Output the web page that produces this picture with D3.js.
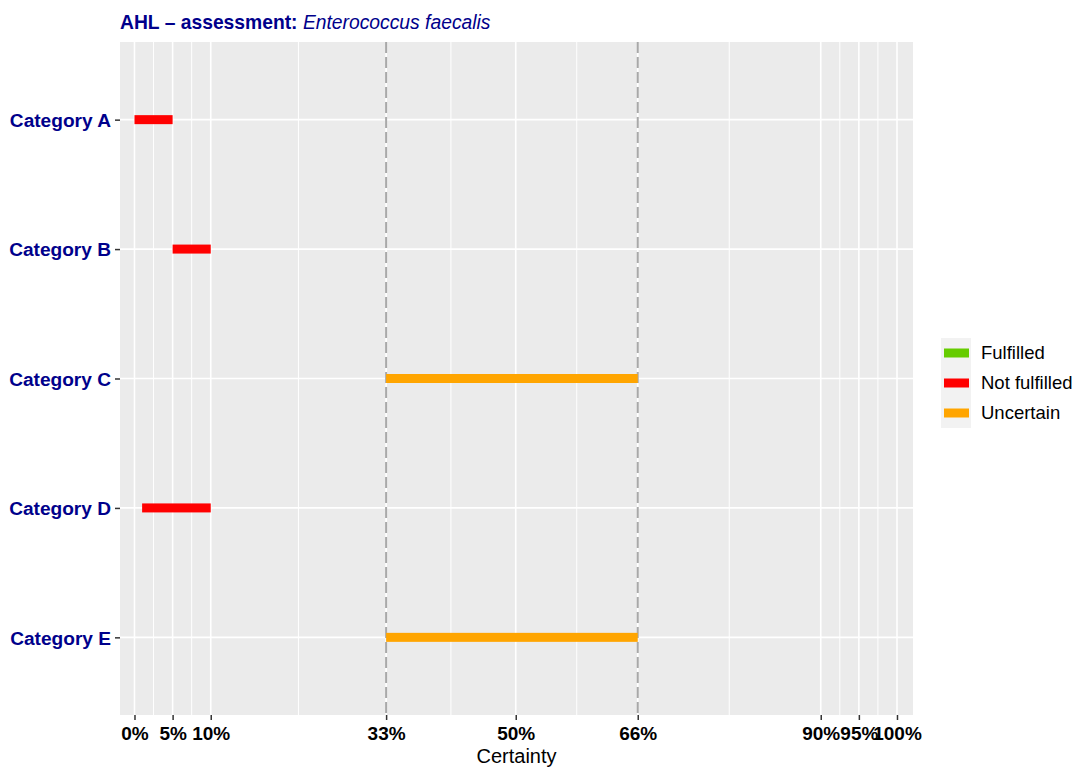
<!DOCTYPE html>
<html><head><meta charset="utf-8">
<script src="https://cdn.jsdelivr.net/npm/d3@7"></script>
<style>body{margin:0;background:#fff}svg{display:block;font-family:"Liberation Sans",Arial,sans-serif}</style>
</head><body>
<svg id="c" width="1076" height="767"></svg>
<script>
const categories = ["Category A","Category B","Category C","Category D","Category E"];
const segStart = [0, 5, 33, 1, 33];
const segEnd = [5, 10, 66, 10, 66];
const segStatus = ["Not fulfilled","Not fulfilled","Uncertain","Not fulfilled","Uncertain"];
const legendLabels = ["Fulfilled","Not fulfilled","Uncertain"];
const legendColors = ["#66CC00","#FF0000","#FFA500"];
const xBreaks = [0,5,10,33,50,66,90,95,100];
const xMinor = [2.5,7.5,21.5,41.5,58,78,92.5,97.5];
const refLines = [33,66];

const svg = d3.select("#c");
const P = {l:120, r:913, t:42, b:715};
const x = d3.scaleLinear().domain([-1.9, 102.1]).range([P.l, P.r]);
const y = d3.scalePoint().domain(categories).range([P.t, P.b]).padding(0.6);
const color = d3.scaleOrdinal().domain(legendLabels).range(legendColors);

svg.append("rect").attr("x",P.l).attr("y",P.t).attr("width",P.r-P.l).attr("height",P.b-P.t).attr("fill","#EBEBEB");
const g = svg.append("g");
g.selectAll(".mn").data(xMinor).join("line").attr("x1",d=>x(d)).attr("x2",d=>x(d)).attr("y1",P.t).attr("y2",P.b).attr("stroke","#fff").attr("stroke-width",1);
g.selectAll(".mj").data(xBreaks).join("line").attr("x1",d=>x(d)).attr("x2",d=>x(d)).attr("y1",P.t).attr("y2",P.b).attr("stroke","#fff").attr("stroke-width",1.6);
g.selectAll(".hy").data(categories).join("line").attr("x1",P.l).attr("x2",P.r).attr("y1",d=>y(d)).attr("y2",d=>y(d)).attr("stroke","#fff").attr("stroke-width",1.6);
g.selectAll(".rl").data(refLines).join("line").attr("x1",d=>x(d)).attr("x2",d=>x(d)).attr("y1",P.t).attr("y2",P.b).attr("stroke","#A8A8A8").attr("stroke-width",2).attr("stroke-dasharray","11,4");

g.selectAll(".seg").data(categories).join("rect")
 .attr("x",(d,i)=>x(segStart[i])).attr("width",(d,i)=>x(segEnd[i])-x(segStart[i]))
 .attr("y",d=>y(d)-4.5).attr("height",9).attr("fill",(d,i)=>color(segStatus[i]));

// x axis
const xa = svg.append("g").attr("transform",`translate(0,${P.b})`)
 .call(d3.axisBottom(x).tickValues(xBreaks).tickFormat(d=>d+"%").tickSize(5).tickPadding(6));
xa.select(".domain").remove();
xa.selectAll(".tick line").attr("stroke","#333").attr("stroke-width",1.5);
xa.selectAll(".tick text").attr("fill","#000").attr("font-size",19).attr("font-weight","bold").attr("dy","0").attr("y",25)
 .attr("font-family","Liberation Sans, Arial, sans-serif");

// y axis
const ya = svg.append("g").attr("transform",`translate(${P.l},0)`)
 .call(d3.axisLeft(y).tickSize(5).tickPadding(4));
ya.select(".domain").remove();
ya.selectAll(".tick line").attr("stroke","#333").attr("stroke-width",1.5);
ya.selectAll(".tick text").attr("fill","#00008B").attr("font-size",19.1).attr("font-weight","bold").attr("dy","0.35em")
 .attr("font-family","Liberation Sans, Arial, sans-serif");

svg.append("text").attr("x",(P.l+P.r)/2).attr("y",763).attr("text-anchor","middle").attr("font-size",20).attr("fill","#000").text("Certainty");

const t = svg.append("text").attr("x",120).attr("y",29).attr("font-size",19.3).attr("fill","#00008B");
t.append("tspan").attr("font-weight","bold").text("AHL \u2013 assessment: ");
t.append("tspan").attr("font-style","italic").text("Enterococcus faecalis");

// legend
const L = svg.append("g");
L.append("rect").attr("x",941).attr("y",338).attr("width",30).attr("height",90).attr("fill","#F2F2F2");
legendLabels.forEach((lab,i)=>{
  const cy = 353 + i*30;
  L.append("rect").attr("x",944).attr("y",cy-4.5).attr("width",25).attr("height",9).attr("fill",color(lab));
  L.append("text").attr("x",981).attr("y",cy).attr("dy","0.35em").attr("font-size",18.5).attr("fill","#000").text(lab);
});
</script>
</body></html>
